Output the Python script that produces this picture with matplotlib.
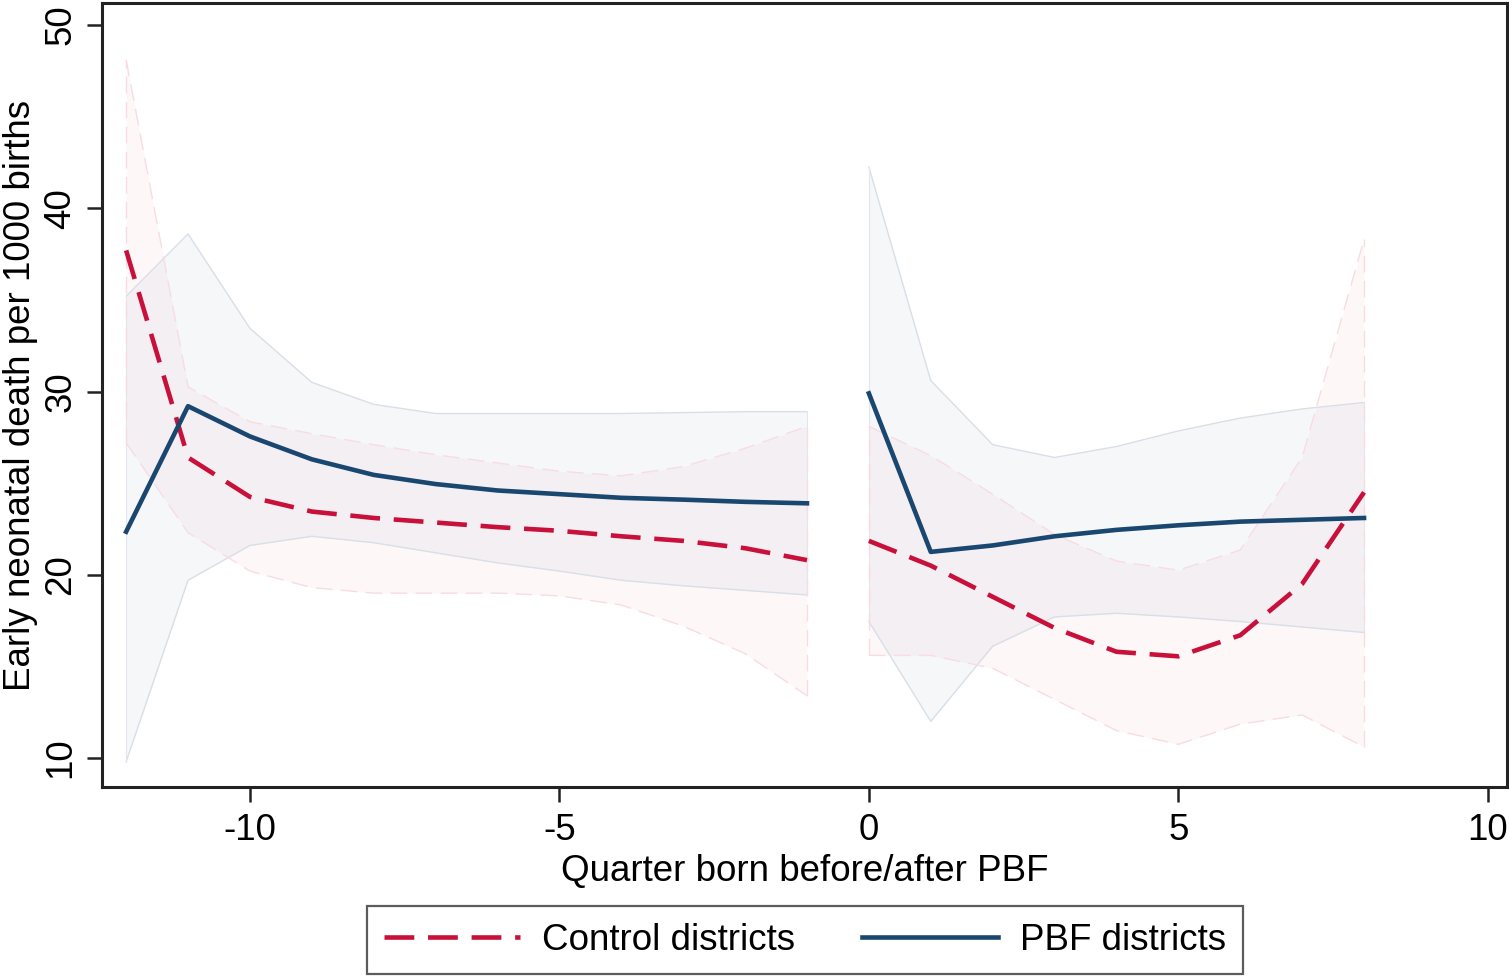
import numpy as np
import matplotlib
matplotlib.use("Agg")
import matplotlib.pyplot as plt

plt.rcParams['font.family'] = ['Liberation Sans', 'DejaVu Sans']
plt.rcParams['axes.unicode_minus'] = False

# Quarters relative to PBF
q_pre = [-12, -11, -10, -9, -8, -7, -6, -5, -4, -3, -2, -1]
q_post = [0, 1, 2, 3, 4, 5, 6, 7, 8]

# Control districts (mean and 95% CI)
ctrl_pre = [37.7, 26.4, 24.25, 23.45, 23.1, 22.85, 22.6, 22.4, 22.1, 21.85, 21.45, 20.8]
ctrl_pre_hi = [48.1, 30.25, 28.35, 27.7, 27.1, 26.55, 26.1, 25.65, 25.4, 25.9, 26.9, 28.1]
ctrl_pre_lo = [27.2, 22.3, 20.2, 19.3, 19.0, 19.0, 19.0, 18.85, 18.35, 17.2, 15.7, 13.4]
ctrl_post = [21.85, 20.5, 18.8, 17.1, 15.8, 15.55, 16.7, 19.5, 24.5]
ctrl_post_hi = [28.1, 26.5, 24.4, 22.2, 20.75, 20.25, 21.35, 26.4, 38.3]
ctrl_post_lo = [15.6, 15.6, 14.9, 13.2, 11.5, 10.75, 11.85, 12.35, 10.6]

# PBF districts (mean and 95% CI)
pbf_pre = [22.35, 29.2, 27.55, 26.3, 25.45, 24.95, 24.6, 24.4, 24.2, 24.1, 23.98, 23.9]
pbf_pre_hi = [35.2, 38.6, 33.45, 30.5, 29.3, 28.8, 28.8, 28.8, 28.8, 28.85, 28.9, 28.9]
pbf_pre_lo = [9.8, 19.7, 21.6, 22.1, 21.75, 21.2, 20.65, 20.2, 19.7, 19.4, 19.15, 18.9]
pbf_post = [29.9, 21.25, 21.6, 22.1, 22.45, 22.7, 22.9, 23.0, 23.1]
pbf_post_hi = [42.25, 30.6, 27.1, 26.4, 27.0, 27.85, 28.55, 29.05, 29.4]
pbf_post_lo = [17.45, 12.0, 16.1, 17.7, 17.9, 17.7, 17.45, 17.15, 16.85]

xticks = [-10, -5, 0, 5, 10]
yticks = [10, 20, 30, 40, 50]

RED = '#C8103A'
NAVY = '#1A476F'
FS = 26.5

fig = plt.figure(figsize=(15.09, 9.76), dpi=100)
ax = fig.add_axes([102/1509, 1-787/976, (1507-102)/1509, (787-3)/976])

for q, lo, hi in [(q_pre, pbf_pre_lo, pbf_pre_hi), (q_post, pbf_post_lo, pbf_post_hi)]:
    ax.fill_between(q, lo, hi, color=NAVY, alpha=0.04, lw=0, zorder=1)
    ax.plot(q, lo, color='#D8DFE7', lw=1.0, zorder=2)
    ax.plot(q, hi, color='#D8DFE7', lw=1.0, zorder=2)
    ax.plot([q[0], q[0]], [lo[0], hi[0]], color='#E2E7ED', lw=0.8, zorder=2)
    ax.plot([q[-1], q[-1]], [lo[-1], hi[-1]], color='#E2E7ED', lw=0.8, zorder=2)

for q, lo, hi in [(q_pre, ctrl_pre_lo, ctrl_pre_hi), (q_post, ctrl_post_lo, ctrl_post_hi)]:
    ax.fill_between(q, lo, hi, color=RED, alpha=0.03, lw=0, zorder=1)
    for yy in (lo, hi):
        ax.plot(q, yy, color='#F8DCE2', lw=1.0, ls=(0, (12, 6)), zorder=2)
    ax.plot([q[0], q[0]], [lo[0], hi[0]], color='#F8DCE2', lw=1.0, ls=(0, (12, 6)), zorder=2)
    ax.plot([q[-1], q[-1]], [lo[-1], hi[-1]], color='#F8DCE2', lw=1.0, ls=(0, (12, 6)), zorder=2)

l1, = ax.plot(q_pre, ctrl_pre, color=RED, lw=3.3, dashes=(6.5, 3), zorder=4, label='Control districts')
ax.plot(q_post, ctrl_post, color=RED, lw=3.3, dashes=(6.5, 3), zorder=4)
l2, = ax.plot(q_pre, pbf_pre, color=NAVY, lw=3.3, zorder=5, label='PBF districts')
ax.plot(q_post, pbf_post, color=NAVY, lw=3.3, zorder=5)

ax.set_xlim(-12.39, 10.31)
ax.set_ylim(8.42, 51.2)
ax.set_xticks(xticks)
ax.set_yticks(yticks)
ax.tick_params(axis='both', labelsize=FS, length=11, width=1.8, color='#222222')
ax.tick_params(axis='x', pad=8)
ax.tick_params(axis='y', pad=6)
for lab in ax.get_yticklabels():
    lab.set_rotation(90)
    lab.set_va('center')
for s in ax.spines.values():
    s.set_linewidth(2.2)
    s.set_color('#222222')

ax.set_xlabel('Quarter born before/after PBF', fontsize=FS, labelpad=4)
ax.set_ylabel('Early neonatal death per 1000 births', fontsize=FS, labelpad=4)

leg = fig.legend(handles=[l1, l2], loc='center', bbox_to_anchor=(805/1509, 1-940/976),
                 ncol=2, fontsize=FS, frameon=True, fancybox=False, handlelength=3.7,
                 columnspacing=1.8, handletextpad=0.6, borderpad=0.45, borderaxespad=0,
                 edgecolor='#333333')
leg.get_frame().set_linewidth(1.6)

fig.savefig('out.png', dpi=100)
